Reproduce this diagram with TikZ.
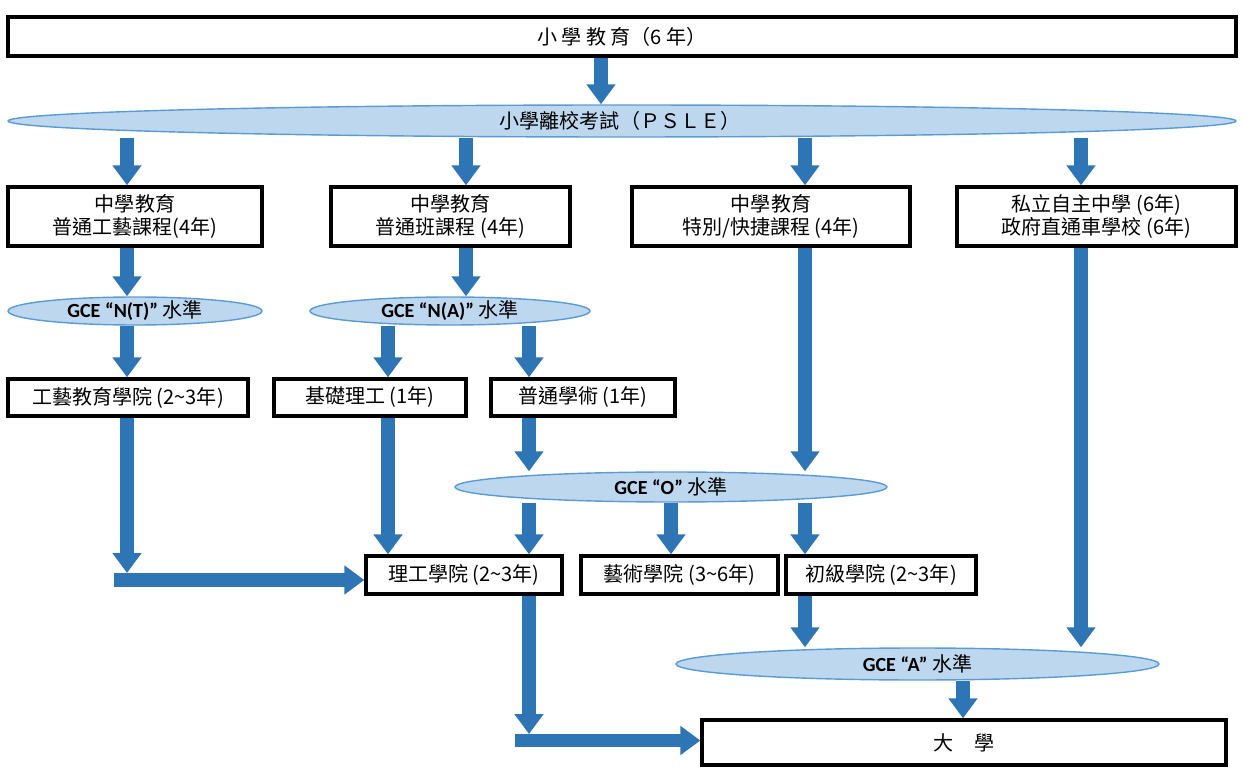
\documentclass[tikz,border=0pt]{standalone}
\usepackage{fontspec}
\setmainfont{Noto Sans CJK TC}
\newfontfamily\latf{Carlito}
\usetikzlibrary{arrows.meta,shapes.geometric}
\definecolor{ablue}{HTML}{2E75B6}
\definecolor{efill}{HTML}{BDD7EE}
\definecolor{eline}{HTML}{5B9BD5}
\newcommand\fsz{\fontsize{11.4pt}{13pt}\selectfont}
\pgfdeclarelayer{bg}
\pgfsetlayers{bg,main}
\begin{document}
\begin{tikzpicture}[x=0.02cm,y=-0.02cm,
  bx/.style={draw=black, line width=1.9pt, fill=white, inner sep=0pt, align=center, font=\fsz},
  ell/.style={ellipse, draw=eline, line width=0.8pt, fill=efill, inner sep=0pt},
  lbl/.style={inner sep=0pt, font=\fsz},
  arr/.style={draw=ablue, line width=0.27cm, -{Triangle[width=0.56cm,length=0.4cm]}},
]
\useasboundingbox (0,0) rectangle (1254,783);

% boxes
\node[bx, minimum width=24.56cm, minimum height=0.78cm] (top) at (622,36.5) {小 學 教 育（6 年）};
\node[ell, minimum width=24.56cm, minimum height=0.64cm] (psle) at (622,121) {};
\node[lbl] (pslet) at (620,121) {小學離校考試（ＰＳＬＥ）};

\node[bx, minimum width=5.08cm, minimum height=1.18cm] (b1) at (135,216.5) {中學教育\\普通工藝課程(4年)};
\node[bx, minimum width=4.78cm, minimum height=1.18cm] (b2) at (450.5,216.5) {中學教育\\普通班課程 (4年)};
\node[bx, minimum width=5.56cm, minimum height=1.18cm] (b3) at (771,216.5) {中學教育\\特別/快捷課程 (4年)};
\node[bx, minimum width=5.58cm, minimum height=1.18cm] (b4) at (1096.5,216.5) {私立自主中學 (6年)\\政府直通車學校 (6年)};

\node[ell, minimum width=5.08cm, minimum height=0.56cm] (nt) at (135,311) {};
\node[lbl] (ntt) at (135,311) {{\latf\bfseries GCE “N(T)”} 水準};
\node[ell, minimum width=5.6cm, minimum height=0.56cm] (na) at (450,311) {};
\node[lbl] (nat) at (450,311) {{\latf\bfseries GCE “N(A)”} 水準};

\node[bx, minimum width=4.8cm, minimum height=0.74cm] (r1) at (128,397.5) {工藝教育學院 (2\textasciitilde3年)};
\node[bx, minimum width=3.84cm, minimum height=0.74cm] (r2) at (370,397.5) {基礎理工 (1年)};
\node[bx, minimum width=3.68cm, minimum height=0.74cm] (r3) at (583,397.5) {普通學術 (1年)};

\node[ell, minimum width=8.64cm, minimum height=0.6cm] (o) at (671,487) {};
\node[lbl] (ot) at (671,487) {{\latf\bfseries GCE “O”} 水準};

\node[bx, minimum width=3.92cm, minimum height=0.76cm] (s1) at (464,575) {理工學院 (2\textasciitilde3年)};
\node[bx, minimum width=3.94cm, minimum height=0.76cm] (s2) at (679.5,575) {藝術學院 (3\textasciitilde6年)};
\node[bx, minimum width=3.8cm, minimum height=0.76cm] (s3) at (881,575) {初級學院 (2\textasciitilde3年)};

\node[ell, minimum width=9.66cm, minimum height=0.64cm] (a) at (917.5,664) {};
\node[lbl] (at) at (917.5,664) {{\latf\bfseries GCE “A”} 水準};

\node[bx, minimum width=10.48cm, minimum height=0.9cm] (uni) at (964,742.5) {大　學};

% column coordinates
\coordinate (xt) at (601,0);
\coordinate (xa) at (127,0);
\coordinate (xb) at (466,0);
\coordinate (xc) at (805,0);
\coordinate (xd) at (1081,0);
\coordinate (xe) at (388,0);
\coordinate (xf) at (529,0);
\coordinate (xg) at (671,0);
\coordinate (xh) at (963,0);
\coordinate (k1) at (127,573);
\coordinate (h1) at (114,580);
\coordinate (k2) at (529,734);
\coordinate (h2) at (515,740.5);

\begin{pgfonlayer}{bg}
\draw[arr] (top.south -| xt) -- (psle.north -| xt);
\draw[arr] (psle.south -| xa) -- (b1.north -| xa);
\draw[arr] (psle.south -| xb) -- (b2.north -| xb);
\draw[arr] (psle.south -| xc) -- (b3.north -| xc);
\draw[arr] (psle.south -| xd) -- (b4.north -| xd);
\draw[arr] (b1.south -| xa) -- (nt.north -| xa);
\draw[arr] (b2.south -| xb) -- (na.north -| xb);
\draw[arr] (nt.south -| xa) -- (r1.north -| xa);
\draw[arr] (na.south -| xe) -- (r2.north -| xe);
\draw[arr] (na.south -| xf) -- (r3.north -| xf);
\draw[arr] (r3.south -| xf) -- (o.north -| xf);
\draw[arr] (b3.south -| xc) -- (o.north -| xc);
\draw[arr] (o.south -| xf) -- (s1.north -| xf);
\draw[arr] (o.south -| xg) -- (s2.north -| xg);
\draw[arr] (o.south -| xc) -- (s3.north -| xc);
\draw[arr] (s3.south -| xc) -- (a.north -| xc);
\draw[arr] (b4.south -| xd) -- (a.north -| xd);
\draw[arr] (a.south -| xh) -- (uni.north -| xh);
\draw[arr] (r1.south -| xa) -- (k1);
\draw[arr] (h1) -- (h1 -| s1.west);
\draw[arr] (r2.south -| xe) -- (s1.north -| xe);
\draw[arr] (s1.south -| xf) -- (k2);
\draw[arr] (h2) -- (h2 -| uni.west);
\end{pgfonlayer}
\end{tikzpicture}
\end{document}
